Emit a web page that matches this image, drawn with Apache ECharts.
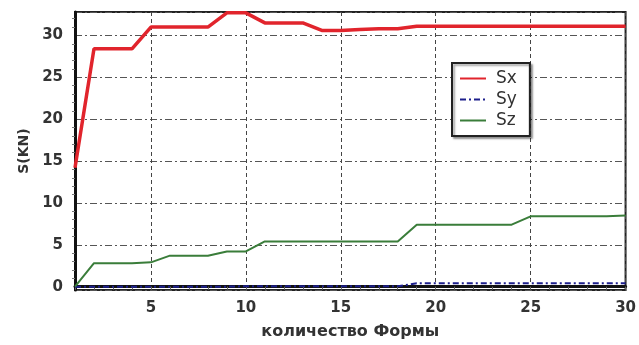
<!DOCTYPE html>
<html>
<head>
<meta charset="utf-8">
<script src="https://cdn.jsdelivr.net/npm/echarts@6/dist/echarts.min.js"></script>
<style>
  html, body { margin: 0; padding: 0; background: #fff; }
  #chart { width: 639px; height: 345px; }
</style>
</head>
<body>
<div id="chart"></div>
<script>
// Number of forms (x axis)
var formCount = [];
for (var i = 1; i <= 30; i++) formCount.push(String(i));

// Forces per number of forms, kN
var sx = [14.2, 28.4, 28.4, 28.4, 31.0, 31.0, 31.0, 31.0, 32.7, 32.7,
          31.5, 31.5, 31.5, 30.6, 30.6, 30.7, 30.8, 30.8, 31.1, 31.1,
          31.1, 31.1, 31.1, 31.1, 31.1, 31.1, 31.1, 31.1, 31.1, 31.1];
var sy = [0.0, 0.0, 0.0, 0.0, 0.0, 0.0, 0.0, 0.0, 0.0, 0.05,
          0.05, 0.05, 0.05, 0.05, 0.05, 0.05, 0.05, 0.05, 0.4, 0.4,
          0.4, 0.4, 0.4, 0.4, 0.4, 0.4, 0.4, 0.4, 0.4, 0.4];
var sz = [0.0, 2.8, 2.8, 2.8, 2.9, 3.7, 3.7, 3.7, 4.2, 4.2,
          5.4, 5.4, 5.4, 5.4, 5.4, 5.4, 5.4, 5.4, 7.4, 7.4,
          7.4, 7.4, 7.4, 7.4, 8.4, 8.4, 8.4, 8.4, 8.4, 8.5];

var seriesNames = ['Sx', 'Sy', 'Sz'];
var yTicks = [0, 5, 10, 15, 20, 25, 30];

var chart = echarts.init(document.getElementById('chart'), null, { renderer: 'canvas' });

var labelFont = { fontFamily: 'DejaVu Sans, sans-serif', fontWeight: 'bold', fontSize: 15, color: '#333' };

chart.setOption({
  animation: false,
  backgroundColor: '#fff',
  grid: {
    left: 75, right: 10, top: 12, bottom: 50,
    show: true, borderColor: '#222', borderWidth: 2, backgroundColor: 'transparent'
  },
  legend: {
    data: seriesNames,
    orient: 'vertical',
    left: 452, top: 63,
    padding: [7, 13, 7, 7],
    itemGap: 4,
    itemWidth: 26, itemHeight: 14,
    itemStyle: { opacity: 0 },
    backgroundColor: '#fff',
    borderColor: '#222', borderWidth: 2,
    shadowColor: 'rgba(0,0,0,0.35)', shadowOffsetX: 2, shadowOffsetY: 2, shadowBlur: 2,
    textStyle: { fontFamily: 'DejaVu Sans, sans-serif', fontSize: 17, color: '#333', padding: [0, 0, 0, 5] }
  },
  xAxis: {
    type: 'category',
    data: formCount,
    boundaryGap: false,
    name: 'количество Формы',
    nameLocation: 'middle',
    nameGap: 34,
    nameTextStyle: { fontFamily: 'DejaVu Sans, sans-serif', fontWeight: 'bold', fontSize: 16, color: '#333' },
    axisLine: { show: true, lineStyle: { color: '#111', width: 3 } },
    axisTick: { show: true, inside: false, length: 3, lineStyle: { color: '#666' }, interval: 0 },
    axisLabel: Object.assign({
      margin: 11,
      interval: function (idx, val) { return Number(val) % 5 === 0; }
    }, labelFont),
    splitLine: {
      show: true,
      interval: function (idx, val) { return Number(val) % 5 === 0; },
      lineStyle: { color: '#444', width: 1, type: [4, 3] }
    }
  },
  yAxis: {
    type: 'value',
    min: -0.4, max: 32.8,
    splitNumber: 7,
    name: 'S(KN)',
    nameLocation: 'middle',
    nameGap: 42,
    nameRotate: 90,
    nameTextStyle: { fontFamily: 'DejaVu Sans, sans-serif', fontWeight: 'bold', fontSize: 14, color: '#333' },
    axisLine: { show: true, lineStyle: { color: '#111', width: 3 } },
    axisTick: { show: false },
    minorTick: { show: true, splitNumber: 5, length: 3, lineStyle: { color: '#777' } },
    axisLabel: Object.assign({
      margin: 12,
      showMinLabel: false, showMaxLabel: false,
      formatter: function (v) { return yTicks.indexOf(v) >= 0 ? String(v) : ''; }
    }, labelFont),
    splitLine: { show: true, lineStyle: { color: '#555', width: 1, type: [7, 3, 2, 3] } }
  },
  series: [
    {
      name: 'Sx', type: 'line', data: sx, symbol: 'none',
      lineStyle: { color: '#e1242c', width: 3.5 }, itemStyle: { color: '#e1242c' }
    },
    {
      name: 'Sy', type: 'line', data: sy, symbol: 'none',
      lineStyle: { color: '#1d1f8c', width: 2, type: [6, 3, 2, 3] }, itemStyle: { color: '#1d1f8c' }
    },
    {
      name: 'Sz', type: 'line', data: sz, symbol: 'none',
      lineStyle: { color: '#3a7d3a', width: 2 }, itemStyle: { color: '#3a7d3a' }
    }
  ]
});
</script>
</body>
</html>
